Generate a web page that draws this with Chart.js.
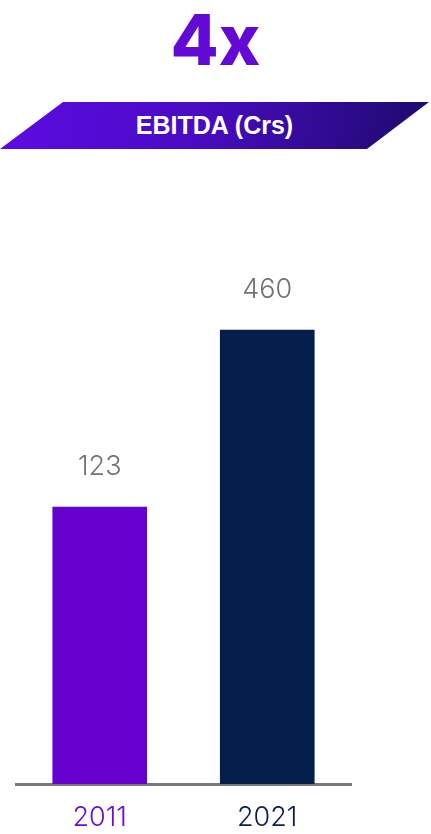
<!DOCTYPE html>
<html>
<head>
<meta charset="utf-8">
<script src="https://cdn.jsdelivr.net/npm/chart.js@4"></script>
<style>
  body { margin: 0; background: #fff; font-family: Inter, "Noto Sans", sans-serif; }
  .wrap { position: relative; width: 431px; height: 834px; overflow: hidden; }
  .big { position: absolute; top: 0; left: 0; width: 431px; text-align: center; top: 1px;
         font-size: 70px; font-weight: 800; color: #6309d6; line-height: 78px; }
  .banner { position: absolute; left: 0; top: 102px; width: 429px; height: 47px;
            clip-path: polygon(63px 0, 429px 0, 367px 100%, 0 100%);
            background: linear-gradient(100deg, #5d0be3 0%, #4a0bc4 45%, #1c0a6a 100%);
            color: #fff; font-family: "Liberation Sans", Arial, sans-serif;
            font-size: 25px; font-weight: 700; text-align: center; line-height: 47px; }
  canvas { position: absolute; top: 0; left: 0; }
</style>
</head>
<body>
<div class="wrap">
  <div class="big">4x</div>
  <div class="banner">EBITDA (Crs)</div>
  <canvas id="myChart" width="431" height="834"></canvas>
</div>
<script>
// data
const years = ["2011", "2021"];
const ebitda = [123, 460];
const barColors = ["#6600cc", "#041f4b"];
const yearColors = ["#6a0fd6", "#0a1f4a"];

// value axis range used by the original artwork (bars are not zero based)
const axisMin = -404;
const axisMax = 700;

// values above bars
const valueLabels = {
  id: "valueLabels",
  afterDatasetsDraw(chart) {
    const ctx = chart.ctx;
    const meta = chart.getDatasetMeta(0);
    ctx.save();
    ctx.font = "300 27px Inter, 'Noto Sans', sans-serif";
    ctx.fillStyle = "#737373";
    ctx.textAlign = "center";
    ctx.textBaseline = "alphabetic";
    meta.data.forEach((bar, i) => {
      ctx.fillText(String(ebitda[i]), bar.x, bar.y - 32);
    });
    ctx.restore();
  }
};

const ctx = document.getElementById("myChart").getContext("2d");

const chart = new Chart(ctx, {
  type: "bar",
  data: {
    labels: years,
    datasets: [{
      data: ebitda,
      backgroundColor: barColors,
      base: axisMin,
      barThickness: 94
    }]
  },
  options: {
    responsive: false,
    animation: false,
    layout: { padding: { top: 204, left: 16, right: 80, bottom: -17 } },
    plugins: { legend: { display: false }, tooltip: { enabled: false } },
    scales: {
      x: {
        grid: { display: false, drawTicks: false },
        border: { display: true, color: "#7a7a7a", width: 3 },
        ticks: {
          padding: 20,
          color: (c) => yearColors[c.index],
          font: { family: "Inter, 'Noto Sans', sans-serif", size: 27, weight: 300, lineHeight: 1 }
        }
      },
      y: {
        display: false,
        min: axisMin,
        max: axisMax
      }
    }
  },
  plugins: [valueLabels]
});
</script>
</body>
</html>
